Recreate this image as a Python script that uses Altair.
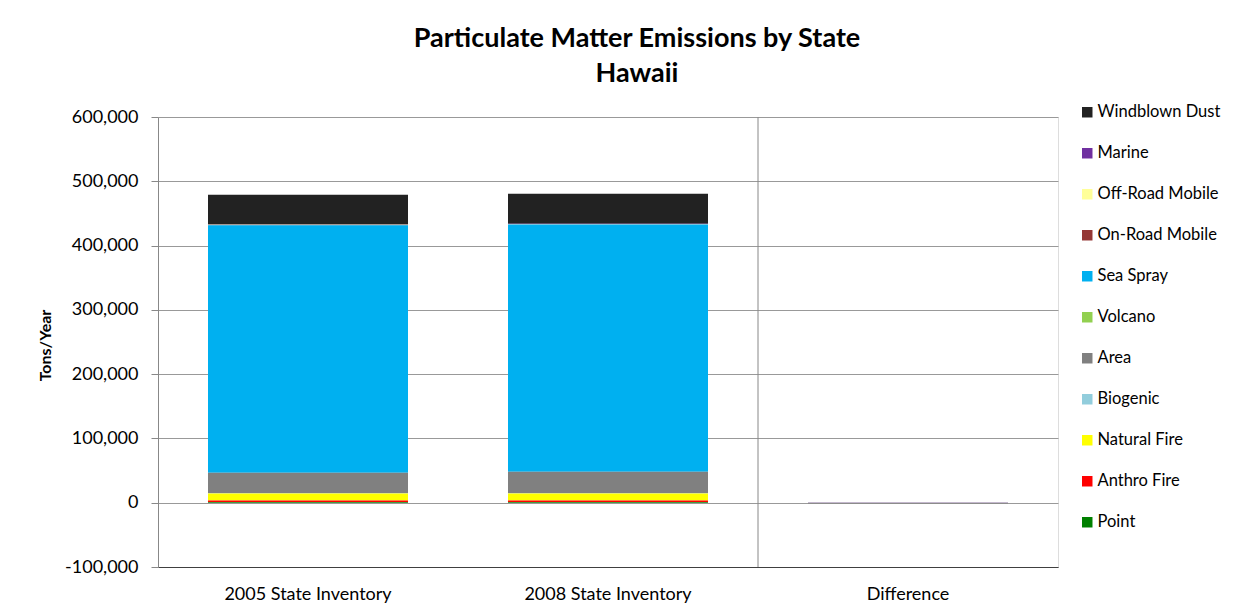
import altair as alt
import pandas as pd

categories = ["2005 State Inventory", "2008 State Inventory", "Difference"]
sources = ["Windblown Dust", "Marine", "Off-Road Mobile", "On-Road Mobile", "Sea Spray",
           "Volcano", "Area", "Biogenic", "Natural Fire", "Anthro Fire", "Point"]
colors = ["#222222", "#7030A0", "#FFFF99", "#953735", "#00B0F0",
          "#92D050", "#808080", "#92CDDC", "#FFFF00", "#FF0000", "#008000"]

# values per source (same order as `sources`)
v2005 = [46500, 200, 300, 300, 385000, 0, 32000, 300, 11000, 2500, 1000]
v2008 = [46600, 900, 300, 300, 384300, 0, 33500, 300, 11000, 2500, 1000]
vdiff = [100, 300, 0, 0, 0, 0, -1300, 0, 0, 0, 0]

rows = []
for cat, vals in zip(categories, [v2005, v2008, vdiff]):
    for i, (s, v) in enumerate(zip(sources, vals)):
        rows.append({"category": cat, "source": s, "value": v,
                     "order": len(sources) - 1 - i})
df = pd.DataFrame(rows)

FONT = "Lato"

bars = alt.Chart(df).mark_bar(size=200).encode(
    x=alt.X("category:N", sort=categories,
            scale=alt.Scale(paddingInner=1/3, paddingOuter=1/6),
            axis=alt.Axis(title=None, labelAngle=0, labelFontSize=18, labelColor="#000000",
                          labelPadding=18, ticks=False, domainColor="#404040",
                          labelFont=FONT)),
    y=alt.Y("value:Q", stack="zero",
            scale=alt.Scale(domain=[-100000, 600000], nice=False),
            axis=alt.Axis(title="Tons/Year", values=[-100000, 0, 100000, 200000, 300000, 400000, 500000, 600000],
                          format=",.0f", labelExpr="replace(datum.label, '\u2212', '-')",
                          labelFontSize=18, labelColor="#000000", labelFont=FONT,
                          tickSize=7, tickColor="#888888", domainColor="#888888",
                          gridColor="#999999", grid=True, labelPadding=13,
                          titleFontSize=16, titleFontWeight="bold", titleFont=FONT,
                          titleColor="#000000", titleX=-113, titleY=228,
                          titleAngle=270, titleAlign="center", titleBaseline="middle")),
    color=alt.Color("source:N",
                    scale=alt.Scale(domain=sources, range=colors),
                    legend=alt.Legend(title=None, orient="none", legendX=921, legendY=-13,
                                      symbolType="square", symbolSize=110, symbolStrokeWidth=0,
                                      labelFontSize=16.5, labelFont=FONT, labelColor="#000000",
                                      rowPadding=24, labelOffset=2)),
    order=alt.Order("order:Q", sort="ascending"),
)

sep = alt.Chart(pd.DataFrame({"c": ["Difference"]})).mark_rule(
    color="#888888", strokeWidth=1, xOffset=-50).encode(
    x=alt.X("c:N", sort=categories, bandPosition=0)
)

chart = alt.layer(bars, sep).properties(
    width=900, height=450,
    padding={"left": 158, "top": 117, "right": 192, "bottom": 46},
    autosize=alt.AutoSizeParams(type="none"),
    title=alt.TitleParams(text=["Particulate Matter Emissions by State", "Hawaii"],
                          fontSize=27, font=FONT, fontWeight="bold", color="#000000",
                          anchor="middle", dx=29, offset=16, lineHeight=35),
).configure_view(stroke="#000000", strokeWidth=1).configure(background="white")

chart.save("out.html", embed_options={"renderer": "svg", "actions": False})
